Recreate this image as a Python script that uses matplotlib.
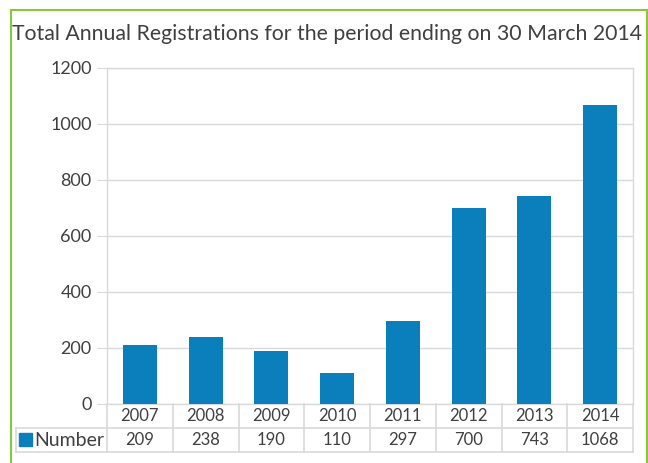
import matplotlib
matplotlib.use('Agg')

import matplotlib.pyplot as plt
from matplotlib.lines import Line2D
from matplotlib.patches import Rectangle
from matplotlib.transforms import blended_transform_factory

years = ['2007', '2008', '2009', '2010', '2011', '2012', '2013', '2014']
numbers = [209, 238, 190, 110, 297, 700, 743, 1068]
yticks = [0, 200, 400, 600, 800, 1000, 1200]
series_name = 'Number'
title = 'Total Annual Registrations for the period ending on 30 March 2014'

bar_color = '#0b7fbb'
grid_color = '#d9d9d9'
text_color = '#404040'
frame_color = '#8cc63f'

plt.rcParams['font.family'] = ['Lato', 'DejaVu Sans']

W, H = 648, 463
fig = plt.figure(figsize=(W / 100, H / 100), dpi=100)

def fx(px):
    return px / W

def fy(py):
    return 1 - py / H

# plot area in pixels
left, right, top, zero = 107, 633, 68, 404
ax = fig.add_axes([fx(left), fy(zero), fx(right - left), fy(top) - fy(zero)])

x = range(len(years))
ax.bar(x, numbers, width=0.52, color=bar_color, zorder=3)
ax.set_xlim(-0.5, len(years) - 0.5)
ax.set_ylim(0, 1200)
ax.set_yticks(yticks)
ax.set_yticklabels([str(v) for v in yticks], fontsize=13, color=text_color)
ax.set_xticks([])
ax.grid(axis='y', color=grid_color, linewidth=1, zorder=0)
for s in ax.spines.values():
    s.set_color(grid_color)
    s.set_linewidth(1)
ax.tick_params(axis='y', length=7, color=grid_color, pad=4)

# green frame
fig.add_artist(Line2D([fx(11), fx(11)], [fy(10), 0], color=frame_color, lw=1.5))
fig.add_artist(Line2D([fx(11), fx(647)], [fy(10), fy(10)], color=frame_color, lw=1.5))
fig.add_artist(Line2D([fx(647), fx(647)], [fy(10), 0], color=frame_color, lw=1.5))

fig.text(fx(12), fy(34), title, fontsize=15.3, color=text_color, va='center', ha='left')

# data table below the axis
tr = blended_transform_factory(ax.transData, fig.transFigure)
row1, row2, row3 = 404, 428, 452
tleft = 16
kw = dict(color=grid_color, lw=1.2)
fig.add_artist(Line2D([fx(tleft), fx(right)], [fy(row2), fy(row2)], **kw))
fig.add_artist(Line2D([fx(tleft), fx(right)], [fy(row3), fy(row3)], **kw))
fig.add_artist(Line2D([fx(tleft), fx(tleft)], [fy(row2), fy(row3)], **kw))
for i in range(len(years) + 1):
    fig.add_artist(Line2D([i - 0.5, i - 0.5], [fy(row1), fy(row3)], transform=tr, **kw))

for i, (yr, n) in enumerate(zip(years, numbers)):
    fig.text(i, fy((row1 + row2) / 2), yr, transform=tr, ha='center', va='center',
             fontsize=12, color=text_color)
    fig.text(i, fy((row2 + row3) / 2), str(n), transform=tr, ha='center', va='center',
             fontsize=12, color=text_color)

fig.add_artist(Rectangle((fx(19), fy(446)), fx(13), fy(433) - fy(446),
                         transform=fig.transFigure, color=bar_color))
fig.text(fx(34), fy((row2 + row3) / 2), series_name, ha='left', va='center',
         fontsize=14, color=text_color)

fig.savefig('out.png', dpi=100)
